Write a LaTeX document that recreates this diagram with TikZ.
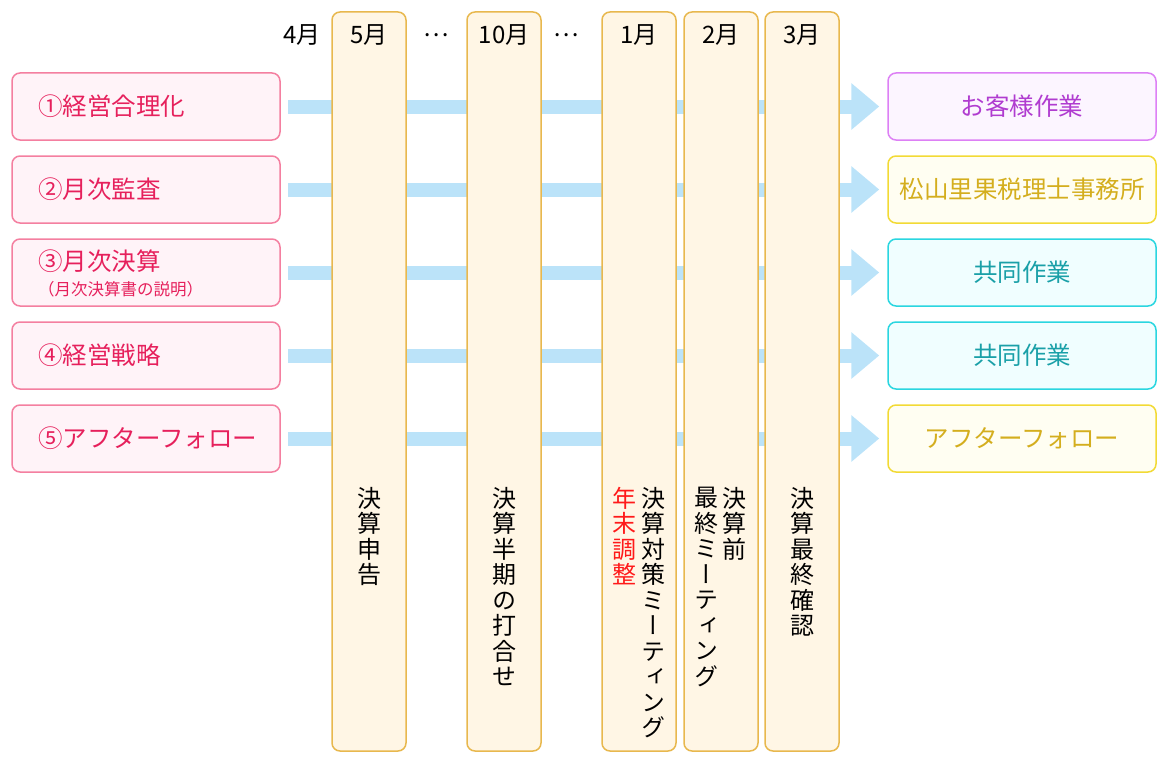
\documentclass[tikz,border=0pt]{standalone}
\usepackage{fontspec}
\setmainfont{Noto Sans CJK JP}
\newfontfamily\vjp[RawFeature=+vert]{Noto Sans CJK JP}
\usetikzlibrary{arrows.meta}
\definecolor{pinkline}{HTML}{F47FA0}
\definecolor{pinkfill}{HTML}{FFF3F8}
\definecolor{pinktext}{HTML}{E6205C}
\definecolor{colline}{HTML}{E8B84E}
\definecolor{colfill}{HTML}{FFF6E5}
\definecolor{purline}{HTML}{DD80F5}
\definecolor{purfill}{HTML}{FCF5FF}
\definecolor{purtext}{HTML}{B03CD0}
\definecolor{yelline}{HTML}{F2DA35}
\definecolor{yelfill}{HTML}{FFFEF2}
\definecolor{yeltext}{HTML}{D4AE1E}
\definecolor{cyanline}{HTML}{2AD6E0}
\definecolor{cyanfill}{HTML}{F0FEFF}
\definecolor{cyantext}{HTML}{1AA0A8}
\definecolor{arrowblue}{HTML}{BBE3F9}
\definecolor{redtext}{HTML}{FF1A1A}
\tikzset{
  lbox/.style={draw=pinkline, fill=pinkfill, line width=1.5pt, rounded corners=8pt,
    minimum height=67pt, text width=216pt, inner xsep=26pt, inner ysep=0pt, align=left,
    text=pinktext, font=\fontsize{24.5}{28}\selectfont},
  ltext/.style={anchor=west, inner sep=0pt, text=pinktext},
  rbox/.style={line width=1.5pt, rounded corners=8pt, minimum width=268pt,
    minimum height=67pt, inner sep=0pt, align=center, font=\fontsize{24.5}{28}\selectfont},
  rpur/.style={rbox, draw=purline, fill=purfill, text=purtext},
  ryel/.style={rbox, draw=yelline, fill=yelfill, text=yeltext},
  rcyan/.style={rbox, draw=cyanline, fill=cyanfill, text=cyantext},
  monthcol/.style={draw=colline, fill=colfill, line width=1.5pt, rounded corners=8pt,
    minimum width=74pt, minimum height=739pt, inner sep=0pt},
  monthlbl/.style={inner sep=0pt, font=\fontsize{24}{28}\selectfont},
  vt/.style={anchor=north, inner sep=0pt, align=center,
    font=\vjp\fontsize{24}{25.5}\selectfont},
  flow/.style={draw=arrowblue, line width=14pt, shorten <=7pt, shorten >=8pt,
    -{Triangle[length=28pt,width=45pt]}}
}
\begin{document}
\begin{tikzpicture}[x=1pt,y=-1pt]
\useasboundingbox (0,0) rectangle (1170,768);
% left boxes
\node[lbox] (L1) at (146,106.5) {①経営合理化};
\node[lbox] (L2) at (146,189.5) {②月次監査};
\node[lbox] (L3) at (146,272.5) {};
\node[ltext, font=\fontsize{24.5}{28}\selectfont] (L3a) at (38,261) {③月次決算};
\node[ltext, font=\fontsize{16.5}{19}\selectfont] (L3b) at (38,289.5) {（月次決算書の説明）};
\node[lbox] (L4) at (146,355.5) {④経営戦略};
\node[lbox] (L5) at (146,438.5) {⑤アフターフォロー};
% right boxes
\node[rpur] (R1) at (1022,106.5) {お客様作業};
\node[ryel] (R2) at (1022,189.5) {松山里果税理士事務所};
\node[rcyan] (R3) at (1022,272.5) {共同作業};
\node[rcyan] (R4) at (1022,355.5) {共同作業};
\node[ryel] (R5) at (1022,438.5) {アフターフォロー};
% flows
\foreach \i in {1,...,5} {\draw[flow] (L\i.east) -- (R\i.west);}
% month columns
\node[monthcol] (C5) at (369,381.5) {};
\node[monthcol] (C10) at (504,381.5) {};
\node[monthcol] (C1) at (639,381.5) {};
\node[monthcol] (C2) at (721,381.5) {};
\node[monthcol] (C3) at (802,381.5) {};
% month labels
\node[monthlbl] (M4) at (302,35) {4月};
\node[monthlbl] (M5) at (369,35) {5月};
\node[monthlbl] (D1) at (436,35) {…};
\node[monthlbl] (M10) at (504,35) {10月};
\node[monthlbl] (D2) at (566,35) {…};
\node[monthlbl] (M1) at (639,35) {1月};
\node[monthlbl] (M2) at (721,35) {2月};
\node[monthlbl] (M3) at (802,35) {3月};
% vertical texts
\node[vt] (T5) at (369,487) {決\\算\\申\\告};
\node[vt] (T10) at (504,487) {決\\算\\半\\期\\の\\打\\合\\せ};
\node[vt, text=redtext] (T1a) at (624,487) {年\\末\\調\\整};
\node[vt] (T1b) at (653,487) {決\\算\\対\\策\\ミ\\ー\\テ\\ィ\\ン\\グ};
\node[vt] (T2a) at (706,487) {最\\終\\ミ\\ー\\テ\\ィ\\ン\\グ};
\node[vt] (T2b) at (734,487) {決\\算\\前};
\node[vt] (T3) at (802,487) {決\\算\\最\\終\\確\\認};
\end{tikzpicture}
\end{document}
